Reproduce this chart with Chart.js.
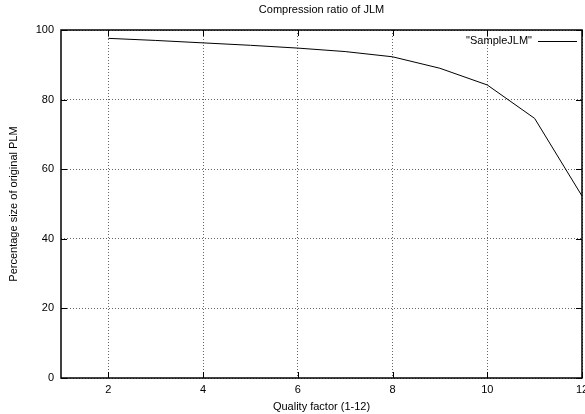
<!DOCTYPE html>
<html>
<head>
<meta charset="utf-8">
<script src="https://cdn.jsdelivr.net/npm/chart.js@4/dist/chart.umd.min.js"></script>
<style>
  html, body { margin: 0; padding: 0; background: #fff; }
  #wrap { width: 585px; height: 414px; }
</style>
</head>
<body>
<div id="wrap"><canvas id="chart" width="585" height="414"></canvas></div>
<script>
'use strict';

// ── Data ─────────────────────────────────────────────────
const chartTitle    = 'Compression ratio of JLM';
const qualityFactor = [2, 3, 4, 5, 6, 7, 8, 9, 10, 11, 12];
const sizePercent   = [97.6, 97.0, 96.3, 95.6, 94.8, 93.8, 92.3, 89.0, 84.2, 74.6, 52.3];
const xTicks        = [2, 4, 6, 8, 10, 12];
const yTicks        = [0, 20, 40, 60, 80, 100];

const FONT = "'Liberation Sans', Arial, Helvetica, sans-serif";
Chart.defaults.font.family = FONT;
Chart.defaults.font.size   = 11;
Chart.defaults.color       = '#000';

// ── Frame, inward ticks, title, legend (gnuplot look) ────
const framePlugin = {
  id: 'frame',
  afterDatasetsDraw(chart) {
    const { ctx, chartArea: a, scales: { x, y } } = chart;
    ctx.save();
    ctx.strokeStyle = '#000';
    ctx.lineWidth = 1;
    ctx.beginPath();
    xTicks.forEach(v => {
      const px = Math.round(x.getPixelForValue(v)) + 0.5;
      ctx.moveTo(px, a.bottom); ctx.lineTo(px, a.bottom - 6);
      ctx.moveTo(px, a.top);    ctx.lineTo(px, a.top + 6);
    });
    yTicks.forEach(v => {
      const py = Math.round(y.getPixelForValue(v)) + 0.5;
      ctx.moveTo(a.left, py);  ctx.lineTo(a.left + 6, py);
      ctx.moveTo(a.right, py); ctx.lineTo(a.right - 6, py);
    });
    ctx.stroke();
    ctx.lineWidth = 1.5;
    ctx.strokeRect(a.left, a.top, a.right - a.left, a.bottom - a.top);

    ctx.fillStyle = '#000';
    ctx.font = '11px ' + FONT;
    ctx.textBaseline = 'middle';

    // title, centred over the plot like gnuplot
    ctx.textAlign = 'center';
    ctx.fillText(chartTitle, (a.left + a.right) / 2, 10);

    // legend
    const ly = a.top + 11;
    ctx.textAlign = 'right';
    ctx.fillText('"' + chart.data.datasets[0].label + '"', a.right - 50, ly);
    ctx.lineWidth = 1;
    ctx.beginPath();
    ctx.moveTo(a.right - 44, ly + 0.5);
    ctx.lineTo(a.right - 5, ly + 0.5);
    ctx.stroke();
    ctx.restore();
  },
};

const grid = {
  color: '#666',
  lineWidth: 1,
  drawTicks: false,
};

new Chart(document.getElementById('chart'), {
  type: 'line',
  data: {
    datasets: [{
      label: 'SampleJLM',
      data: qualityFactor.map((q, i) => ({ x: q, y: sizePercent[i] })),
      borderColor: '#000',
      borderWidth: 1,
      pointRadius: 0,
      tension: 0,
      fill: false,
    }],
  },
  options: {
    responsive: false,
    animation: false,
    devicePixelRatio: 1,
    layout: { padding: { top: 30, right: 3, left: 0, bottom: 0 } },
    plugins: {
      legend: { display: false },
      tooltip: { enabled: false },
      title: { display: false },
    },
    scales: {
      x: {
        type: 'linear',
        min: 1, max: 12,
        afterBuildTicks: s => { s.ticks = xTicks.map(v => ({ value: v })); },
        afterFit: s => { s.height = 36; s.paddingLeft = 0; s.paddingRight = 0; },
        border: { display: false, dash: [1, 2] },
        grid: { ...grid },
        ticks: { padding: 5, color: '#000', maxRotation: 0 },
        title: {
          display: true,
          text: 'Quality factor (1-12)',
          padding: { top: 2, bottom: 0 },
          color: '#000',
        },
      },
      y: {
        min: 0, max: 100,
        afterBuildTicks: s => { s.ticks = yTicks.map(v => ({ value: v })); },
        afterFit: s => { s.width = 61; s.paddingTop = 0; s.paddingBottom = 0; },
        border: { display: false, dash: [1, 2] },
        grid: { ...grid },
        ticks: { padding: 7, color: '#000' },
        title: {
          display: true,
          text: 'Percentage size of original PLM',
          padding: { top: 7, bottom: 0 },
          color: '#000',
        },
      },
    },
  },
  plugins: [framePlugin],
});
</script>
</body>
</html>
